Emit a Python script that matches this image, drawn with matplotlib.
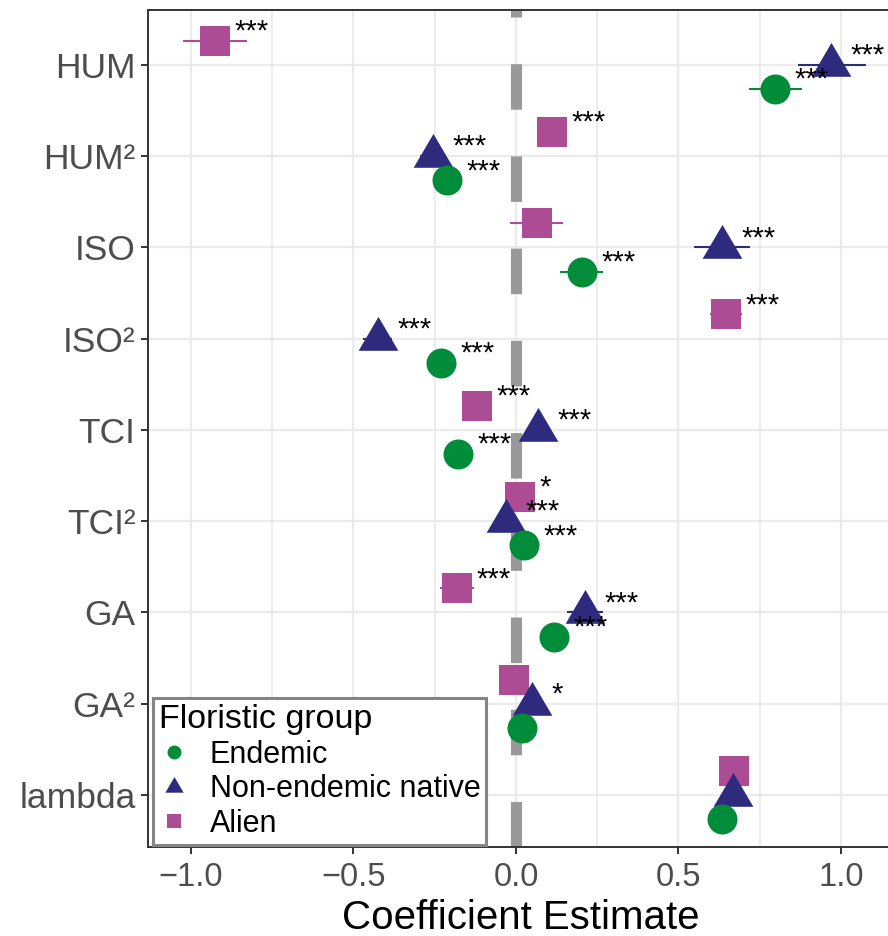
import numpy as np
import matplotlib.pyplot as plt
from matplotlib.lines import Line2D
from matplotlib.path import Path

plt.rcParams['font.family'] = ['Liberation Sans', 'DejaVu Sans']

terms = ['HUM', 'HUM²', 'ISO', 'ISO²', 'TCI', 'TCI²', 'GA', 'GA²', 'lambda']
groups = ['Endemic', 'Non-endemic native', 'Alien']

# model coefficients with 95% CI per floristic group
endemic_est = [0.797, -0.212, 0.203, -0.231, -0.178, 0.025, 0.117, 0.018, 0.634]
endemic_lo = [0.717, -0.242, 0.135, -0.261, -0.208, -0.005, 0.087, -0.012, 0.609]
endemic_hi = [0.880, -0.182, 0.268, -0.201, -0.148, 0.055, 0.147, 0.048, 0.659]
endemic_sig = ['***', '***', '***', '***', '***', '***', '***', '', '']

native_est = [0.969, -0.255, 0.634, -0.425, 0.068, -0.031, 0.212, 0.049, 0.668]
native_lo = [0.868, -0.295, 0.548, -0.470, 0.033, -0.066, 0.157, 0.014, 0.633]
native_hi = [1.077, -0.215, 0.720, -0.380, 0.103, 0.004, 0.268, 0.084, 0.703]
native_sig = ['***', '***', '***', '***', '***', '***', '***', '*', '']

alien_est = [-0.926, 0.111, 0.065, 0.646, -0.120, 0.013, -0.181, -0.006, 0.671]
alien_lo = [-1.025, 0.081, -0.018, 0.596, -0.150, -0.017, -0.233, -0.036, 0.641]
alien_hi = [-0.828, 0.141, 0.145, 0.696, -0.090, 0.043, -0.129, 0.024, 0.701]
alien_sig = ['***', '***', '', '***', '***', '*', '***', '', '']

xticks = [-1.0, -0.5, 0.0, 0.5, 1.0]
xticklabels = ['\u22121.0', '\u22120.5', '0.0', '0.5', '1.0']

# triangle centred on its centroid (like R's pch 17)
tri = Path([(0, 1), (-0.88, -0.5), (0.88, -0.5), (0, 1)],
           [Path.MOVETO, Path.LINETO, Path.LINETO, Path.CLOSEPOLY])

green = '#008C39'
navy = '#2E2A7E'
pink = '#AB4C94'

series = [
    # est, lo, hi, sig, colour, marker, size, dodge
    (alien_est, alien_lo, alien_hi, alien_sig, pink, 's', 21.6, 0.265),
    (native_est, native_lo, native_hi, native_sig, navy, tri, 32.5, 0.0),
    (endemic_est, endemic_lo, endemic_hi, endemic_sig, green, 'o', 21.6, -0.265),
]

fig = plt.figure(figsize=(8.88, 9.36), dpi=100)
ax = fig.add_axes([148/888, 1-847/936, (894-148)/888, (847-10)/936])

ypos = np.arange(len(terms))[::-1]
ax.set_ylim(-0.57, 8.6)
ax.set_xlim(-1.132, 1.163)

ax.set_xticks(xticks)
ax.set_xticks([-0.75, -0.25, 0.25, 0.75], minor=True)
ax.set_xticklabels(xticklabels)
ax.set_yticks(ypos)
ax.set_yticklabels(terms)
ax.grid(True, which='major', color='#EBEBEB', lw=1.6, zorder=0)
ax.grid(True, which='minor', axis='x', color='#EBEBEB', lw=1.3, zorder=0)
ax.set_axisbelow(True)

ax.tick_params(axis='y', labelsize=25.5, colors='#333333', labelcolor='#4D4D4D',
               length=5, width=1.4, pad=4)
ax.tick_params(axis='x', labelsize=23.5, colors='#333333', labelcolor='#4D4D4D',
               length=5, width=1.4, pad=6)
ax.tick_params(axis='x', which='minor', length=0)
for s in ['left', 'bottom', 'top']:
    ax.spines[s].set_color('#333333')
    ax.spines[s].set_linewidth(1.4)
ax.spines['right'].set_visible(False)

# zero reference line, dashes start at the panel bottom
ax.plot([0, 0], [-0.57, 8.6], color='#999999', lw=8, solid_capstyle='butt',
        linestyle=(0, (4.1, 4.2)), zorder=1)

for est, lo, hi, sig, col, mk, ms, dy in series:
    y = ypos + dy
    ax.hlines(y, lo, hi, color=col, lw=1.5, zorder=2)
for est, lo, hi, sig, col, mk, ms, dy in series:
    y = ypos + dy
    ax.plot(est, y, linestyle='none', marker=mk, ms=ms, color=col,
            markeredgewidth=0, zorder=3)
for est, lo, hi, sig, col, mk, ms, dy in series:
    for xi, yi, s in zip(est, ypos + dy, sig):
        if s:
            ax.text(xi + 0.06, yi + 0.012, s, ha='left', va='baseline',
                    fontsize=21, color='black', zorder=4)

ax.set_xlabel('Coefficient Estimate', fontsize=29, labelpad=4)

handles = [
    Line2D([], [], linestyle='none', marker='o', ms=10, color=green, markeredgewidth=0),
    Line2D([], [], linestyle='none', marker=tri, ms=15, color=navy, markeredgewidth=0),
    Line2D([], [], linestyle='none', marker='s', ms=10, color=pink, markeredgewidth=0),
]
leg = ax.legend(handles, groups, title='Floristic group', loc='upper left',
                bbox_to_anchor=(153/888, 1-698/936), bbox_transform=fig.transFigure,
                borderaxespad=0, fontsize=22, title_fontsize=24.5, alignment='left',
                frameon=True, fancybox=False, framealpha=1, edgecolor='#858585',
                borderpad=0.2, labelspacing=0.15, handlelength=1.0,
                handletextpad=0.65)
leg.get_frame().set_linewidth(2.2)
leg.set_zorder(10)

fig.savefig('out.png', dpi=100)
